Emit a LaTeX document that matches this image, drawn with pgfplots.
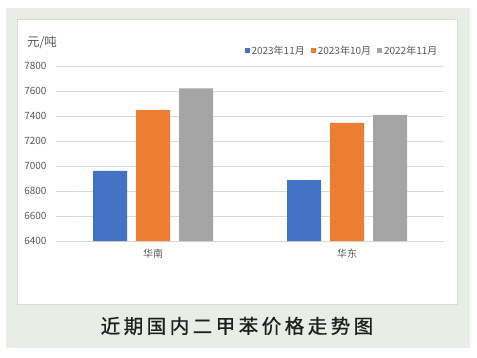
\documentclass[border=0pt]{standalone}
\usepackage{fontspec}
\setmainfont{Noto Sans CJK SC}
\usepackage{pgfplots}
\pgfplotsset{compat=1.18}
\definecolor{cblue}{HTML}{4472C4}
\definecolor{corange}{HTML}{ED7D31}
\definecolor{cgray}{HTML}{A5A5A5}
\definecolor{bggreen}{HTML}{E8EDE6}
\definecolor{txtgray}{HTML}{595959}
\definecolor{gridc}{HTML}{D9D9D9}
\begin{document}
\begin{tikzpicture}
\fill[white] (0bp,0bp) rectangle (477bp,-358bp);
\fill[bggreen] (6bp,-8bp) rectangle (470bp,-348bp);
\filldraw[fill=white,draw=gridc,line width=1bp] (17bp,-19bp) rectangle (457bp,-304bp);
\node[txtgray,font=\fontsize{12.5bp}{14bp}\selectfont] at (42bp,-42bp) {元/吨};
\node[black!88,font=\fontsize{19.5bp}{22bp}\selectfont\addfontfeature{LetterSpace=18,FakeBold=0.8}] at (237bp,-326bp) {近期国内二甲苯价格走势图};
\begin{axis}[
  at={(56bp,-241bp)}, anchor=south west,
  scale only axis, width=388bp, height=175bp,
  ybar=9bp, bar width=34bp,
  xmin=-0.5, xmax=1.5, ymin=6400, ymax=7800,
  ytick={6400,6600,...,7800},
  xtick={0,1}, xticklabels={华南,华东},
  axis line style={draw=none},
  major tick length=0pt,
  ymajorgrids, grid style={gridc,line width=1bp},
  /pgf/number format/assume math mode=true,
  /pgf/number format/1000 sep={},
  tick label style={txtgray,font=\fontsize{10bp}{11bp}\selectfont},
  yticklabel style={xshift=-6bp},
  xticklabel style={yshift=-5bp},
  legend columns=3,
  legend style={at={(0.737,1.086)},anchor=center,draw=none,fill=none,
    font=\fontsize{10bp}{11bp}\selectfont,text=txtgray,
    /tikz/every even column/.append style={column sep=4bp},
    inner sep=0pt},
  legend cell align=left,
]
\addplot[fill=cblue,draw=none,legend image code/.code={\fill[cblue] (0bp,-2.5bp) rectangle (5bp,2.5bp);}] coordinates {(0,6962) (1,6888)};
\addplot[fill=corange,draw=none,legend image code/.code={\fill[corange] (0bp,-2.5bp) rectangle (5bp,2.5bp);}] coordinates {(0,7448) (1,7345)};
\addplot[fill=cgray,draw=none,legend image code/.code={\fill[cgray] (0bp,-2.5bp) rectangle (5bp,2.5bp);}] coordinates {(0,7622) (1,7410)};
\legend{2023年11月,2023年10月,2022年11月}
\end{axis}
\end{tikzpicture}
\end{document}
